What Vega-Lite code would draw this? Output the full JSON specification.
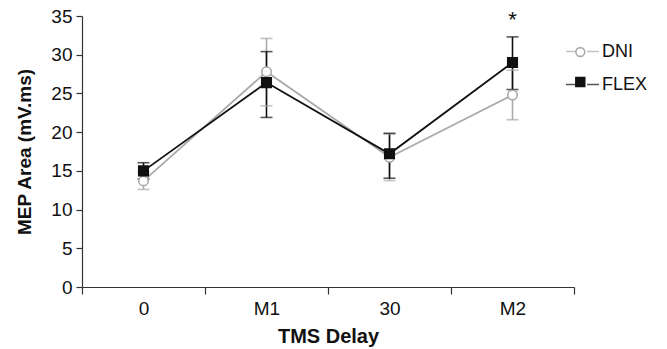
{
  "$schema": "https://vega.github.io/schema/vega-lite/v6.json",
  "autosize": {"type": "none"},
  "padding": {"left": 82, "top": 16, "right": 93, "bottom": 62},
  "width": 492,
  "height": 271,
  "background": "white",
  "config": {
    "view": {"stroke": null},
    "font": "Liberation Sans",
    "axis": {"grid": false, "domainColor": "#333", "tickColor": "#333", "labelColor": "#111", "titleColor": "#111", "domainWidth": 1.2, "tickWidth": 1.2},
    "legend": {"padding": 0, "title": null, "labelFont": "Liberation Sans", "labelFontSize": 18, "labelColor": "#111"}
  },
  "datasets": {
    "stats": [
      {"delay": "0", "group": "DNI", "mean": 13.7, "lo": 12.6, "hi": 14.8},
      {"delay": "M1", "group": "DNI", "mean": 27.8, "lo": 23.4, "hi": 32.1},
      {"delay": "30", "group": "DNI", "mean": 16.75, "lo": 13.75, "hi": 19.75},
      {"delay": "M2", "group": "DNI", "mean": 24.8, "lo": 21.6, "hi": 28.0},
      {"delay": "0", "group": "FLEX", "mean": 15.0, "lo": 13.95, "hi": 16.05},
      {"delay": "M1", "group": "FLEX", "mean": 26.4, "lo": 21.9, "hi": 30.4},
      {"delay": "30", "group": "FLEX", "mean": 17.2, "lo": 14.05, "hi": 19.85},
      {"delay": "M2", "group": "FLEX", "mean": 29.0, "lo": 25.5, "hi": 32.3}
    ],
    "marks": [{"delay": "M2", "y": 34.5, "label": "*"}]
  },
  "data": {"name": "stats"},
  "encoding": {
    "x": {"field": "delay", "type": "ordinal", "sort": ["0", "M1", "30", "M2"], "scale": {"paddingInner": 0, "paddingOuter": 0}, "axis": {"title": "TMS Delay", "labelAngle": 0, "tickBand": "extent", "tickSize": 7, "labelPadding": 5, "titlePadding": 8, "labelFontSize": 19, "titleFontSize": 20, "titleFontWeight": "bold", "labelFont": "Liberation Sans", "titleFont": "Liberation Sans"}},
    "y": {"field": "mean", "type": "quantitative", "scale": {"domain": [0, 35], "nice": false}, "axis": {"title": "MEP Area (mV.ms)", "values": [0, 5, 10, 15, 20, 25, 30, 35], "tickSize": 6, "labelPadding": 4, "titlePadding": 16, "labelFontSize": 19, "titleFontSize": 19, "titleFontWeight": "bold", "labelFont": "Liberation Sans", "titleFont": "Liberation Sans"}}
  },
  "layer": [
    {
      "mark": {"type": "rule", "strokeWidth": 1.6},
      "encoding": {
        "y": {"field": "lo", "type": "quantitative"},
        "y2": {"field": "hi"},
        "color": {"field": "group", "type": "nominal", "scale": {"domain": ["DNI", "FLEX"], "range": ["#aaaaaa", "#111111"]}, "legend": {"orient": "none", "legendX": 483, "legendY": 18, "rowPadding": 6, "symbolType": "stroke", "symbolSize": 1089, "symbolStrokeWidth": 1.7, "symbolDash": [12, 9], "labelOffset": 2}}
      }
    },
    {
      "mark": {"type": "tick", "size": 12, "thickness": 1.6},
      "encoding": {
        "y": {"field": "lo", "type": "quantitative"},
        "color": {"field": "group", "type": "nominal"}
      }
    },
    {
      "mark": {"type": "tick", "size": 12, "thickness": 1.6},
      "encoding": {
        "y": {"field": "hi", "type": "quantitative"},
        "color": {"field": "group", "type": "nominal"}
      }
    },
    {
      "mark": {"type": "line", "strokeWidth": 1.8},
      "encoding": {
        "color": {"field": "group", "type": "nominal"}
      }
    },
    {
      "mark": {"type": "point", "strokeWidth": 1.6, "opacity": 1, "size": 90},
      "encoding": {
        "stroke": {"field": "group", "type": "nominal", "scale": {"range": ["#aaaaaa", "#111111"]}, "legend": {"orient": "none", "legendX": 489.3, "legendY": 27, "rowPadding": 12, "symbolSize": 78, "symbolStrokeWidth": 1.6, "labelExpr": "''", "labelOffset": 3}},
        "shape": {"field": "group", "type": "nominal", "scale": {"range": ["circle", "square"]}, "legend": {"orient": "none", "legendX": 489.3, "legendY": 27, "rowPadding": 12, "symbolSize": 78, "symbolStrokeWidth": 1.6, "labelExpr": "''", "labelOffset": 3}},
        "fill": {"field": "group", "type": "nominal", "scale": {"range": ["#ffffff", "#111111"]}, "legend": {"orient": "none", "legendX": 489.3, "legendY": 27, "rowPadding": 12, "symbolSize": 78, "symbolStrokeWidth": 1.6, "labelExpr": "''", "labelOffset": 3}}
      }
    },
    {
      "data": {"name": "marks"},
      "mark": {"type": "text", "fontSize": 22, "font": "Liberation Sans", "color": "#111", "baseline": "middle"},
      "encoding": {
        "y": {"field": "y", "type": "quantitative"},
        "text": {"field": "label"}
      }
    }
  ]
}
